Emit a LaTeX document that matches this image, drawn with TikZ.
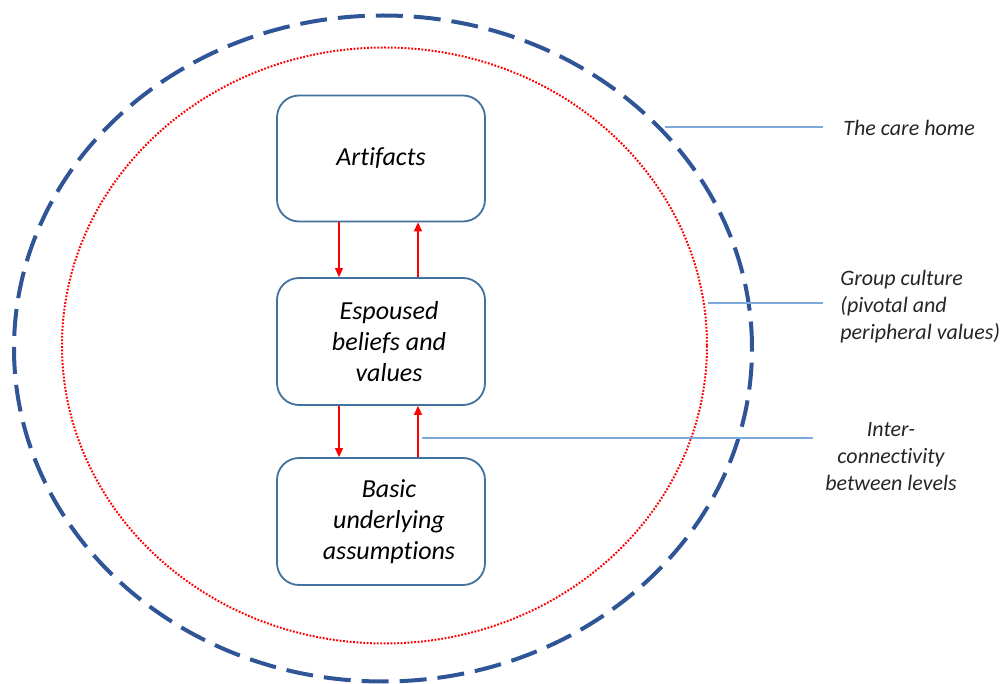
\documentclass[tikz,border=0pt]{standalone}
\usepackage{fontspec}
\setmainfont{Carlito}[Ligatures=NoCommon]
\usetikzlibrary{arrows.meta}
\definecolor{outerblue}{HTML}{2F5597}
\definecolor{boxblue}{HTML}{41719C}
\definecolor{leaderblue}{HTML}{7EA9DC}
\definecolor{arrred}{HTML}{FF0000}
\tikzset{
  levelbox/.style={draw=boxblue, line width=0.9pt, rounded corners=11pt, fill=white,
    minimum width=104pt, align=center, font=\fontsize{13}{15.5}\selectfont\itshape},
  outerring/.style={draw=outerblue, line width=2pt, dash pattern=on 13.5pt off 5.5pt},
  innerring/.style={draw=arrred, line width=1pt, dash pattern=on 0.9pt off 0.8pt},
  arr/.style={draw=arrred, line width=0.6pt, -{Triangle[length=4.5pt,width=4pt]}},
  leader/.style={draw=leaderblue, line width=0.7pt},
  lbl/.style={inner sep=0pt, font=\fontsize{11}{13.5}\selectfont\itshape, text=black!85}
}
\begin{document}
\begin{tikzpicture}[x=0.5pt,y=-0.5pt]
\useasboundingbox (0,0) rectangle (1008,684);
% rings
\draw[outerring] (383,348.5) ellipse [x radius=184.5pt, y radius=166.5pt];
\draw[innerring] (384.5,345.5) ellipse [x radius=161.25pt, y radius=149pt];
% boxes
\node[levelbox, minimum height=63pt] (art) at (381,158.5) {Artifacts};
\node[levelbox, minimum height=63.5pt] (esp) at (381,341.5) {\hspace*{8pt}Espoused\\\hspace*{8pt}beliefs and\\\hspace*{8pt}values};
\node[levelbox, minimum height=63.5pt] (bas) at (381,521.5) {\hspace*{8pt}Basic\\\hspace*{8pt}underlying\\\hspace*{8pt}assumptions};
% arrows between levels
\draw[arr] ([xshift=-21pt]art.south) -- ([xshift=-21pt]esp.north);
\draw[arr] ([xshift=18.5pt]esp.north) -- ([xshift=18.5pt]art.south);
\draw[arr] ([xshift=-21pt]esp.south) -- ([xshift=-21pt]bas.north);
\draw[arr] ([xshift=18.5pt]bas.north) -- ([xshift=18.5pt]esp.south);
% labels
\node[lbl, anchor=west] (care) at (843,128) {The care home};
\node[lbl, anchor=west, align=left] (grp) at (840,307) {Group culture\\(pivotal and\\peripheral values)};
\node[lbl, align=center] (inter) at (891,457) {Inter-\\connectivity\\between levels};
% leader lines
\coordinate (c1) at (665,127);
\coordinate (c1e) at (823,127);
\coordinate (c2) at (708,303);
\coordinate (c2e) at (823,303);
\coordinate (c3) at (422,438);
\coordinate (c3e) at (813,438);
\draw[leader] (c1) -- (c1e);
\draw[leader] (c2) -- (c2e);
\draw[leader] (c3) -- (c3e);
\end{tikzpicture}
\end{document}
